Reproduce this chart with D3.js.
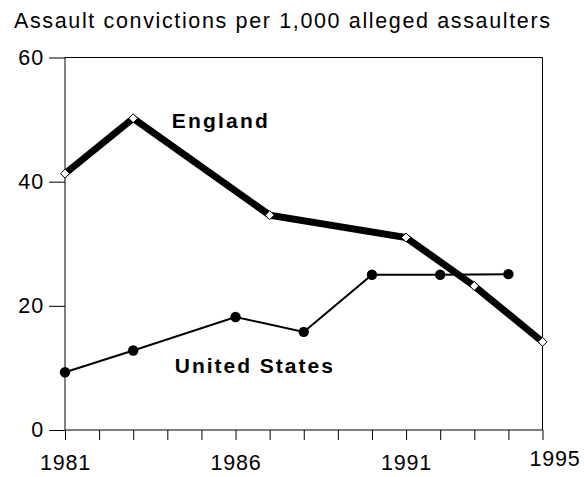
<!DOCTYPE html>
<html>
<head>
<meta charset="utf-8">
<script src="https://cdn.jsdelivr.net/npm/d3@7/dist/d3.min.js"></script>
<style>
  html, body { margin: 0; padding: 0; background: #fff; }
  svg { display: block; font-family: "Liberation Sans", Arial, sans-serif; }
</style>
</head>
<body>
<svg id="chart" width="584" height="477"></svg>
<script>
const title = "Assault convictions per 1,000 alleged assaulters";
const englandYears = [1981, 1983, 1987, 1991, 1993, 1995];
const englandValues = [41.3, 50.2, 34.6, 31.0, 23.2, 14.2];
const usYears = [1981, 1983, 1986, 1988, 1990, 1992, 1994];
const usValues = [9.3, 12.8, 18.2, 15.8, 25.0, 25.0, 25.1];
const yTicks = [0, 20, 40, 60];
const xTickLabels = [1981, 1986, 1991, 1995];
const seriesNames = ["England", "United States"];

const svg = d3.select("#chart");
const pLeft = 65, pRight = 542.5, pTop = 57.5, pBottom = 430;

const x = d3.scaleLinear().domain([1981, 1995]).range([pLeft, pRight]);
const y = d3.scaleLinear().domain([0, 60]).range([pBottom, pTop]);

svg.append("text")
  .attr("x", 14).attr("y", 27.5)
  .attr("font-size", 21.5)
  .attr("fill", "#000")
  .attr("textLength", 536).attr("lengthAdjust", "spacing")
  .text(title);

// plot frame (top and right)
svg.append("path")
  .attr("d", `M${pLeft},${pTop}H${pRight}V${pBottom}`)
  .attr("fill", "none").attr("stroke", "#000").attr("stroke-width", 1);

// Y axis
const yAxis = d3.axisLeft(y).tickValues(yTicks).tickSize(16).tickPadding(4.5).tickFormat(d3.format("d"));
const gy = svg.append("g").attr("transform", `translate(${pLeft},0)`).call(yAxis);
gy.select(".domain").attr("stroke", "#000").attr("d", `M0,${pTop}V${pBottom}`);
gy.selectAll(".tick line").attr("stroke", "#000");
gy.selectAll(".tick text").attr("font-size", 21.5).attr("fill", "#000")
  .attr("font-family", "Liberation Sans, Arial, sans-serif")
  .attr("letter-spacing", 1.2);

// X axis
const xAxis = d3.axisBottom(x).tickValues(d3.range(1981, 1996)).tickSize(10)
  .tickFormat(d => xTickLabels.includes(d) ? String(d) : "");
const gx = svg.append("g").attr("transform", `translate(0,${pBottom})`).call(xAxis);
gx.select(".domain").attr("stroke", "#000").attr("d", `M${pLeft},0H${pRight}`);
gx.selectAll(".tick line").attr("stroke", "#000");
gx.selectAll(".tick text").attr("font-size", 21.5).attr("fill", "#000")
  .attr("font-family", "Liberation Sans, Arial, sans-serif")
  .attr("letter-spacing", 0.8)
  .attr("y", 40).attr("dy", 0);
gx.selectAll(".tick").filter(d => d === 1995).select("text")
  .attr("dx", 12).attr("y", 36);

const englandData = englandYears.map((yr, i) => ({ yr, v: englandValues[i] }));
const usData = usYears.map((yr, i) => ({ yr, v: usValues[i] }));
const line = d3.line().x(d => x(d.yr)).y(d => y(d.v));

svg.append("path").datum(englandData)
  .attr("d", line).attr("fill", "none").attr("stroke", "#000")
  .attr("stroke-width", 7).attr("stroke-linejoin", "miter");

svg.append("path").datum(usData)
  .attr("d", line).attr("fill", "none").attr("stroke", "#000")
  .attr("stroke-width", 2);

svg.selectAll(".diamond").data(englandData).enter().append("path")
  .attr("class", "diamond")
  .attr("transform", d => `translate(${x(d.yr)},${y(d.v)})`)
  .attr("d", "M0,-4.5L4.5,0L0,4.5L-4.5,0Z")
  .attr("fill", "#fff").attr("stroke", "#000").attr("stroke-width", 1);

svg.selectAll(".dot").data(usData).enter().append("circle")
  .attr("class", "dot")
  .attr("cx", d => x(d.yr)).attr("cy", d => y(d.v)).attr("r", 5.2)
  .attr("fill", "#000");

// series labels
svg.append("text")
  .attr("x", x(1984.13)).attr("y", y(48.7))
  .attr("font-size", 21).attr("font-weight", "bold").attr("fill", "#000")
  .attr("textLength", 96).attr("lengthAdjust", "spacing")
  .text(seriesNames[0]);
svg.append("text")
  .attr("x", x(1984.22)).attr("y", y(9.16))
  .attr("font-size", 21).attr("font-weight", "bold").attr("fill", "#000")
  .attr("textLength", 158).attr("lengthAdjust", "spacing")
  .text(seriesNames[1]);
</script>
</body>
</html>
